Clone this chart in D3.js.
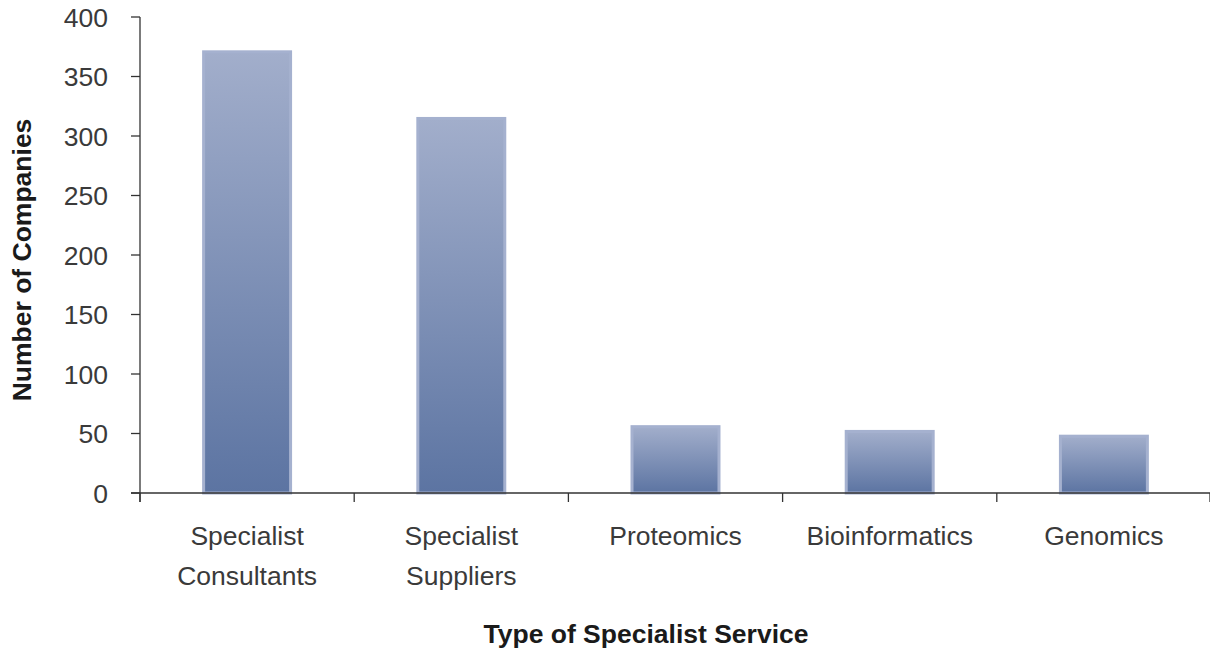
<!DOCTYPE html>
<html><head><meta charset="utf-8">
<script src="https://cdn.jsdelivr.net/npm/d3@7/dist/d3.min.js"></script>
<style>
body{margin:0;background:#fff;}
text{font-family:"Liberation Sans",Arial,sans-serif;}
</style></head>
<body><svg id="c" width="1210" height="653"></svg>
<script>
const categories = [["Specialist","Consultants"],["Specialist","Suppliers"],["Proteomics"],["Bioinformatics"],["Genomics"]];
const values = [372, 316, 57, 53, 49];
const yTicks = [0,50,100,150,200,250,300,350,400];
const xTitle = "Type of Specialist Service";
const yTitle = "Number of Companies";

(function(){
const svg = d3.select("#c");
const mLeft = 140, mRight = 1211, mTop = 17, mBottom = 493;
const keys = categories.map((c,i)=>i);
const x = d3.scaleBand().domain(keys).range([mLeft,mRight]).paddingInner(0.58).paddingOuter(0.29);
const xb = d3.scaleBand().domain(keys).range([mLeft,mRight]);
const y = d3.scaleLinear().domain([0,400]).range([mBottom,mTop]);

const defs = svg.append("defs");
const g = defs.append("linearGradient").attr("id","grad").attr("x1",0).attr("y1",0).attr("x2",0).attr("y2",1);
g.append("stop").attr("offset","0%").attr("stop-color","#a2aecb");
g.append("stop").attr("offset","100%").attr("stop-color","#5c74a2");

svg.append("g").selectAll("rect").data(values).join("rect")
  .attr("x",(d,i)=>x(i)+1.5).attr("width",x.bandwidth()-3)
  .attr("y",d=>y(d)+1.5).attr("height",d=>mBottom-y(d)-1.5)
  .attr("fill","url(#grad)").attr("stroke","#a5b1cf").attr("stroke-width",3);

const ya = svg.append("g");
ya.append("line").attr("x1",mLeft).attr("x2",mLeft).attr("y1",mTop).attr("y2",mBottom+9).attr("stroke","#333").attr("stroke-width",1.3);
ya.selectAll(".t").data(yTicks).join("line").attr("class","t").attr("x1",mLeft-9).attr("x2",mLeft).attr("y1",d=>y(d)).attr("y2",d=>y(d)).attr("stroke","#333").attr("stroke-width",1.3);
ya.selectAll("text").data(yTicks).join("text").attr("x",108).attr("y",d=>y(d)).attr("dy","0.36em")
  .attr("text-anchor","end").attr("font-size",26.5).attr("fill","#3a3a3a").text(d=>d);

const xa = svg.append("g");
xa.append("line").attr("x1",mLeft-9).attr("x2",1210).attr("y1",mBottom).attr("y2",mBottom).attr("stroke","#333").attr("stroke-width",1.3);
const bounds = keys.map(k=>xb(k)).concat([mRight-1]);
xa.selectAll(".tk").data(bounds).join("line").attr("class","tk").attr("x1",d=>d).attr("x2",d=>d).attr("y1",mBottom).attr("y2",mBottom+9).attr("stroke","#333").attr("stroke-width",1.3);
const lab = xa.selectAll(".lab").data(categories).join("text").attr("class","lab")
  .attr("text-anchor","middle").attr("font-size",26.5).attr("fill","#3a3a3a")
  .attr("transform",(d,i)=>`translate(${xb(i)+xb.bandwidth()/2},545)`);
lab.selectAll("tspan").data(d=>d).join("tspan").attr("x",0).attr("dy",(d,j)=>j===0?0:40).text(d=>d);

svg.append("text").attr("x",646).attr("y",643).attr("text-anchor","middle").attr("font-size",26.5).attr("font-weight","bold").attr("fill","#1a1a1a").text(xTitle);
svg.append("text").attr("transform","translate(31,260) rotate(-90)").attr("text-anchor","middle").attr("font-size",26.5).attr("font-weight","bold").attr("fill","#1a1a1a").text(yTitle);
})();
</script></body></html>
